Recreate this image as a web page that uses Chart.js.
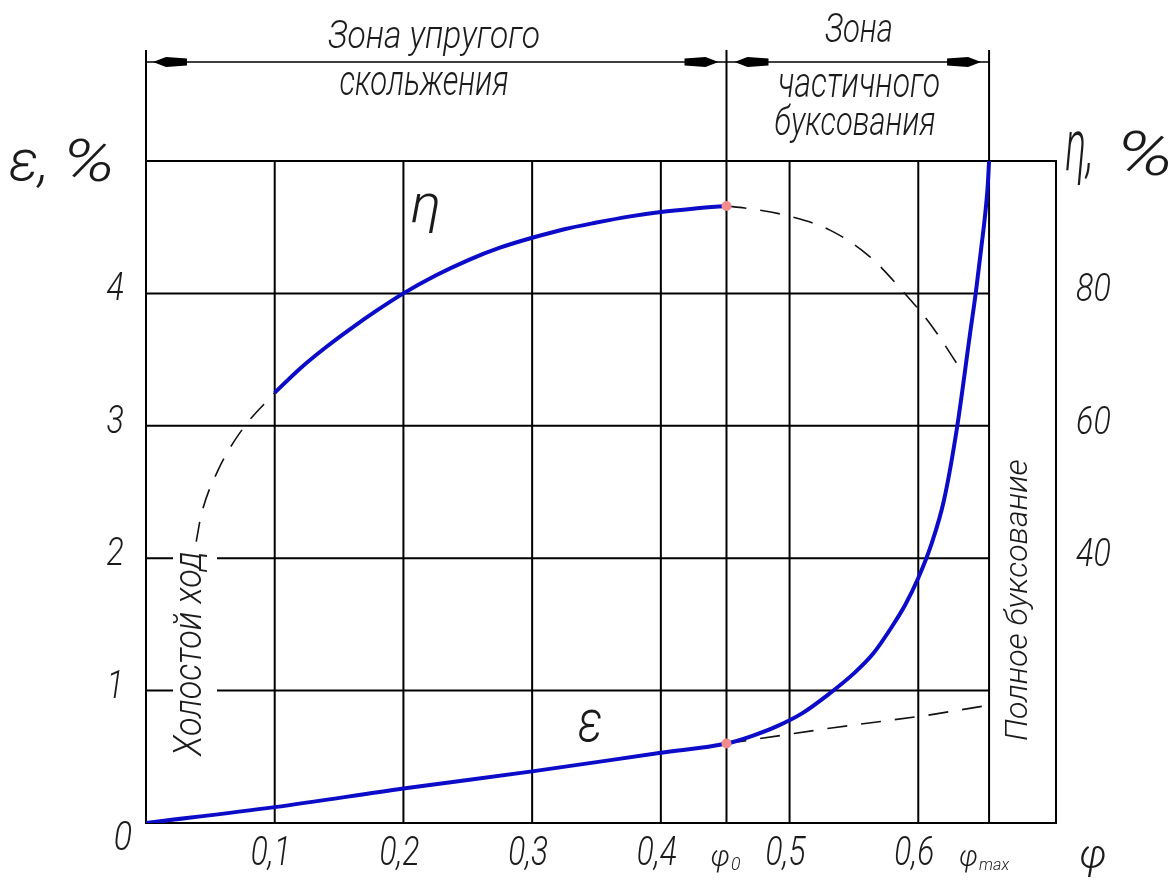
<!DOCTYPE html>
<html lang="ru">
<head>
<meta charset="utf-8">
<title>Буксование и КПД в функции коэффициента сцепления</title>
<script src="https://cdn.jsdelivr.net/npm/chart.js@4/dist/chart.umd.min.js"></script>
<style>
  html, body { margin: 0; padding: 0; background: #fff; }
  #wrap { width: 1172px; height: 882px; }
</style>
</head>
<body>
<div id="wrap"><canvas id="c" width="1172" height="882"></canvas></div>
<script>
// Coefficient of adhesion φ
const phiTicks = [0.1, 0.2, 0.3, 0.4, 0.5, 0.6];
const phiTickLabels = ['0,1', '0,2', '0,3', '0,4', '0,5', '0,6'];
const phi0 = 0.451;     // end of elastic slip
const phiMax = 0.655;   // full spinning
const phiEnd = 0.707;   // right edge of the frame

// Slip ε, % (left axis) and efficiency η, % (right axis)
const epsTicks = [1, 2, 3, 4];
const epsMax = 5;
const etaTicks = [40, 60, 80];
const etaMax = 100;

// Slip curve ε(φ)
const epsPhi = [0, 0.1, 0.2, 0.3, 0.4, 0.451, 0.47, 0.49, 0.51, 0.53, 0.55, 0.565, 0.58, 0.59, 0.6, 0.61, 0.62, 0.63, 0.64, 0.645, 0.649, 0.652, 0.654, 0.655];
const epsVal = [0, 0.12, 0.26, 0.39, 0.53, 0.60, 0.655, 0.73, 0.83, 0.97, 1.13, 1.28, 1.49, 1.65, 1.85, 2.10, 2.44, 2.98, 3.68, 4.03, 4.35, 4.60, 4.82, 5.0];
// Elastic slip continued past φ0
const epsExtPhi = [0.451, 0.534, 0.605, 0.655];
const epsExtVal = [0.60, 0.72, 0.81, 0.89];

// Efficiency curve η(φ)
const etaPhi = [0.1, 0.12, 0.14, 0.16, 0.18, 0.2, 0.225, 0.25, 0.275, 0.3, 0.325, 0.35, 0.375, 0.4, 0.425, 0.451];
const etaVal = [65.0, 68.7, 71.9, 74.8, 77.5, 80.0, 82.7, 85.0, 86.9, 88.4, 89.7, 90.7, 91.6, 92.3, 92.8, 93.2];
// η near idle running
const etaIdlePhi = [0.039, 0.043, 0.056, 0.075, 0.1];
const etaIdleVal = [42.5, 46.6, 53.3, 59.5, 65.0];
// η falling off in the partial spinning zone
const etaDropPhi = [0.451, 0.465, 0.497, 0.531, 0.562, 0.589, 0.61, 0.636];
const etaDropVal = [93.2, 92.9, 91.8, 89.6, 85.6, 80.1, 75.2, 67.6];

const FONT = 'Roboto, "DejaVu Sans", sans-serif';
const INK = '#1b1b1b';
const BLUE = '#0c0cc8';
const PHI = 'φ';

const pts = (xs, ys) => xs.map((x, i) => ({ x, y: ys[i] }));

// text drawn at a given size, optionally squeezed to a width
function drawText(ctx, str, x, y, size, o = {}) {
  ctx.save();
  ctx.font = `italic 300 ${size}px ${FONT}`;
  ctx.fillStyle = INK;
  ctx.textBaseline = 'alphabetic';
  ctx.textAlign = 'left';
  const m = ctx.measureText(str).width;
  const sx = o.w ? o.w / m : (o.sx || 1);
  ctx.translate(x, y);
  ctx.scale(sx, 1);
  const off = o.align === 'center' ? -m / 2 : o.align === 'right' ? -m : 0;
  ctx.fillText(str, off, 0);
  ctx.restore();
  return m * sx;
}

// text whose ink fills a box of W x H centred at (cx, cy)
function fitText(ctx, str, cx, cy, W, H, rot) {
  ctx.save();
  ctx.font = `italic 300 100px ${FONT}`;
  ctx.fillStyle = INK;
  ctx.textAlign = 'left';
  ctx.textBaseline = 'alphabetic';
  const m = ctx.measureText(str);
  const iw = m.actualBoundingBoxLeft + m.actualBoundingBoxRight;
  const ih = m.actualBoundingBoxAscent + m.actualBoundingBoxDescent;
  ctx.translate(cx, cy);
  if (rot) ctx.rotate(rot);
  ctx.scale(W / iw, H / ih);
  ctx.fillText(str,
    -(m.actualBoundingBoxRight - m.actualBoundingBoxLeft) / 2,
    (m.actualBoundingBoxAscent - m.actualBoundingBoxDescent) / 2);
  ctx.restore();
}

// φ with a subscript
function phiLabel(ctx, sub, cx, base, size, subSize, w) {
  ctx.save();
  ctx.font = `italic 300 ${size}px ${FONT}`;
  const a = ctx.measureText(PHI).width;
  ctx.font = `italic 300 ${subSize}px ${FONT}`;
  const b = ctx.measureText(sub).width;
  const total = a + b + 1;
  const sx = w / total;
  ctx.translate(cx - w / 2, base);
  ctx.scale(sx, 1);
  ctx.fillStyle = INK;
  ctx.textBaseline = 'alphabetic';
  ctx.font = `italic 300 ${size}px ${FONT}`;
  ctx.fillText(PHI, 0, 0);
  ctx.font = `italic 300 ${subSize}px ${FONT}`;
  ctx.fillText(sub, a + 1, 4);
  ctx.restore();
}

// Frame, grid and the zone dimension lines
const framePlugin = {
  id: 'frame',
  beforeDatasetsDraw(chart) {
    const { ctx, scales: { x, y } } = chart;
    const line = (x1, y1, x2, y2) => { ctx.beginPath(); ctx.moveTo(x1, y1); ctx.lineTo(x2, y2); ctx.stroke(); };
    const yTop = y.getPixelForValue(epsMax), yBot = y.getPixelForValue(0);
    const xL = x.getPixelForValue(0), xR = x.getPixelForValue(phiEnd);
    const x0 = x.getPixelForValue(phi0), xM = x.getPixelForValue(phiMax);
    const extTop = 50, dimY = 62;
    ctx.save();
    ctx.strokeStyle = '#000';
    ctx.lineWidth = 2;
    phiTicks.forEach(v => { const px = x.getPixelForValue(v); line(px, yTop, px, yBot); });
    [xL, x0, xM].forEach(px => line(px, extTop, px, yBot + 1));
    line(xR, yTop - 1, xR, yBot + 1);
    epsTicks.forEach(v => { const py = y.getPixelForValue(v); line(xL, py, xM, py); });
    line(xL - 1, yTop, xR + 1, yTop);
    line(xL - 1, yBot, xR + 1, yBot);
    ctx.lineWidth = 1.5;
    line(xL, dimY, xM, dimY);
    const arrow = (tip, dir) => {
      ctx.beginPath();
      ctx.moveTo(tip, dimY);
      ctx.lineTo(tip - dir * 13, dimY - 5);
      ctx.lineTo(tip - dir * 34, dimY - 3.5);
      ctx.lineTo(tip - dir * 34, dimY + 3.5);
      ctx.lineTo(tip - dir * 13, dimY + 5);
      ctx.closePath();
      ctx.fillStyle = '#000';
      ctx.fill();
    };
    arrow(xL + 7, -1);
    arrow(x0 - 8, 1);
    arrow(x0 + 8, -1);
    arrow(xM - 8, 1);
    ctx.restore();
  }
};

// Axis figures, zone captions and curve names
const textPlugin = {
  id: 'texts',
  afterDatasetsDraw(chart) {
    const { ctx, scales: { x, y, y2 } } = chart;
    // zone captions
    drawText(ctx, 'Зона упругого', 434, 48, 39, { align: 'center', w: 212 });
    drawText(ctx, 'скольжения', 424, 95, 42, { align: 'center', w: 169 });
    drawText(ctx, 'Зона', 859, 42, 40, { align: 'center', w: 68 });
    drawText(ctx, 'частичного', 859, 97, 42, { align: 'center', w: 162 });
    drawText(ctx, 'буксования', 855, 135, 40, { align: 'center', w: 161 });

    // axis names
    fitText(ctx, 'ε,', 27, 169, 34, 39);
    fitText(ctx, '%', 90, 160, 42, 44);
    fitText(ctx, 'η,', 1078, 157, 24, 54);
    fitText(ctx, '%', 1146, 153, 46, 45);
    fitText(ctx, PHI, 1093, 862, 24, 31);

    // left ticks
    epsTicks.forEach(v => drawText(ctx, String(v), 124, y.getPixelForValue(v) + 7, 38, { align: 'right', sx: 0.85 }));
    drawText(ctx, '0', 132, y.getPixelForValue(0) + 27, 40, { align: 'right', sx: 0.85 });
    // right ticks
    etaTicks.forEach(v => drawText(ctx, String(v), 1076, y2.getPixelForValue(v) + 8, 38, { align: 'left', sx: 0.85 }));
    // bottom ticks
    phiTicks.forEach((v, i) => drawText(ctx, phiTickLabels[i], x.getPixelForValue(v) - 4, 865, 41, { align: 'center', w: 40 }));
    phiLabel(ctx, '0', x.getPixelForValue(phi0) - 1, 866, 30, 18, 30);
    phiLabel(ctx, 'max', x.getPixelForValue(phiMax) - 5, 866, 30, 17, 50);

    // curve names
    fitText(ctx, 'η', 425, 213, 26, 40);
    fitText(ctx, 'ε', 590, 726, 22, 32);

    // vertical notes
    ctx.save();
    ctx.fillStyle = '#fff';
    ctx.fillRect(173, 546, 44, 218);
    ctx.restore();
    fitText(ctx, 'Холостой ход', 190, 655, 204, 34, -Math.PI / 2);
    fitText(ctx, 'Полное буксование', 1018, 600, 280, 30, -Math.PI / 2);
  }
};

const dashed = { borderColor: '#111', borderWidth: 1.6, borderDash: [20, 14], pointRadius: 0, showLine: true, fill: false };

new Chart(document.getElementById('c'), {
  type: 'scatter',
  data: {
    datasets: [
      { data: [{ x: phi0, y: epsVal[5] }], yAxisID: 'y', pointRadius: 5, pointBackgroundColor: '#f28b8b', pointBorderWidth: 0, showLine: false },
      { data: [{ x: phi0, y: etaVal[etaVal.length - 1] }], yAxisID: 'y2', pointRadius: 5, pointBackgroundColor: '#f28b8b', pointBorderWidth: 0, showLine: false },
      { data: pts(epsPhi, epsVal), yAxisID: 'y', borderColor: BLUE, borderWidth: 4, pointRadius: 0, showLine: true, cubicInterpolationMode: 'monotone' },
      { data: pts(etaPhi, etaVal), yAxisID: 'y2', borderColor: BLUE, borderWidth: 4, pointRadius: 0, showLine: true, cubicInterpolationMode: 'monotone' },
      Object.assign({ data: pts(epsExtPhi, epsExtVal), yAxisID: 'y' }, dashed),
      Object.assign({ data: pts(etaIdlePhi, etaIdleVal), yAxisID: 'y2', cubicInterpolationMode: 'monotone' }, dashed),
      Object.assign({ data: pts(etaDropPhi, etaDropVal), yAxisID: 'y2', cubicInterpolationMode: 'monotone' }, dashed)
    ]
  },
  options: {
    responsive: false,
    animation: false,
    devicePixelRatio: 1,
    events: [],
    layout: { padding: { left: 146, right: 116, top: 161, bottom: 59 } },
    plugins: { legend: { display: false }, tooltip: { enabled: false } },
    scales: {
      x: { type: 'linear', min: 0, max: phiEnd, display: false },
      y: { type: 'linear', min: 0, max: epsMax, display: false },
      y2: { type: 'linear', min: 0, max: etaMax, display: false, position: 'right' }
    }
  },
  plugins: [framePlugin, textPlugin]
});
</script>
</body>
</html>
